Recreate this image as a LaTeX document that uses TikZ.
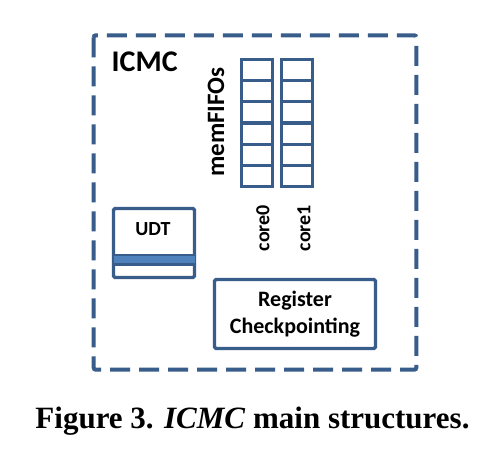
\documentclass[tikz,border=0pt]{standalone}
\usepackage{fontspec}
\setmainfont{Liberation Serif}
\newfontfamily\carl{Carlito}
\definecolor{frame}{RGB}{56,93,138}
\definecolor{band}{RGB}{79,129,189}
\begin{document}
\begin{tikzpicture}[x=1pt,y=-1pt,
  boxst/.style={draw=frame,line width=3.2pt,rounded corners=1.5pt,inner sep=0pt},
  cell/.style={draw=frame,line width=3.3pt,inner sep=0pt,minimum width=31pt,minimum height=21.17pt},
  lbl/.style={text=black,inner sep=0pt}]
\useasboundingbox (0,0) rectangle (500,457);
\fill[white] (0,0) rectangle (500,457);
% outer dashed frame
\draw[frame,line width=4pt,dash pattern=on 20pt off 9pt,rounded corners=2pt]
  (93.7,35.3) rectangle (416.3,369.7);
\node[lbl,font=\carl\bfseries\fontsize{30}{32}\selectfont,anchor=base west] (icmc) at (111.5,72) {ICMC};
% FIFOs
\foreach \i in {0,...,5}{
  \node[cell] (a\i) at (257,{59.5+21.17*(\i+0.5)}) {};
  \node[cell] (b\i) at (297,{59.5+21.17*(\i+0.5)}) {};
}
\node[lbl,font=\carl\bfseries\fontsize{25}{27}\selectfont,rotate=90] (mem) at (216,122) {memFIFOs};
\node[lbl,font=\carl\bfseries\fontsize{20}{22}\selectfont,rotate=90] (c0) at (263,228) {core0};
\node[lbl,font=\carl\bfseries\fontsize{20}{22}\selectfont,rotate=90] (c1) at (304,228) {core1};
% UDT
\node[boxst,minimum width=81pt,minimum height=69pt] (udt) at (154,243) {};
\fill[band] (113.5,255) rectangle (194.5,264.3);
\draw[frame,line width=2.5pt] (113.5,255) -- (194.5,255);
\draw[frame,line width=2.5pt] (113.5,264.3) -- (194.5,264.3);
\node[lbl,font=\carl\bfseries\fontsize{20}{22}\selectfont] (udtt) at (153,229) {UDT};
% Register checkpointing
\node[boxst,minimum width=161pt,minimum height=69pt,font=\carl\bfseries\fontsize{22}{27}\selectfont,align=center,text=black] (reg) at (295,314) {Register\\Checkpointing};
% caption
\node[font=\bfseries\fontsize{31}{33}\selectfont,anchor=base,inner sep=0pt] (cap) at (252.5,428) {Figure 3. \textit{ICMC} main structures.};
\end{tikzpicture}
\end{document}
